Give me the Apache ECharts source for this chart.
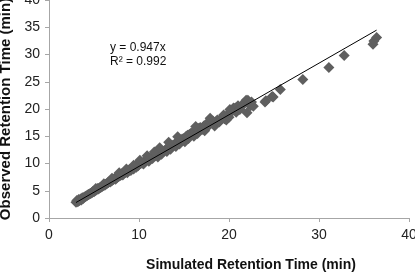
<!DOCTYPE html>
<html><head><meta charset="utf-8">
<script src="https://cdn.jsdelivr.net/npm/echarts@6/dist/echarts.min.js"></script>
<style>html,body{margin:0;padding:0;background:#fff}#c{width:415px;height:272px}</style>
</head><body><div id="c"></div>
<script>
var xTitle = 'Simulated Retention Time (min)';
var yTitle = 'Observed Retention Time (min)';
var equationText = ['y = 0.947x', 'R\u00b2 = 0.992'];
var slope = 0.947;
var trendRange = [3.0, 36.4];
var simulated = [3.0,3.1,3.2,3.3,3.4,3.5,3.6,3.7,3.8,3.9,4.0,4.1,4.2,4.3,4.4,4.5,4.6,4.7,4.8,4.9,5.0,5.1,5.2,5.3,5.4,5.5,5.6,5.7,5.8,5.9,6.0,6.1,6.2,6.3,6.4,6.5,6.6,6.7,6.8,6.9,7.0,7.1,7.2,7.3,7.4,7.5,7.6,7.7,7.8,7.9,8.0,8.1,8.2,8.3,8.4,8.5,8.6,8.7,8.8,8.9,9.0,9.1,9.2,9.3,9.4,9.5,9.6,9.7,9.8,9.9,10.0,10.2,10.4,10.5,10.6,10.8,11.0,11.1,11.2,11.4,11.5,11.6,11.8,12.0,12.1,12.2,12.4,12.5,12.6,12.8,13.0,13.1,13.2,13.4,13.5,13.6,13.8,14.0,14.1,14.2,14.4,14.5,14.6,14.8,15.0,15.1,15.2,15.4,15.5,15.6,15.8,16.0,16.1,16.2,16.4,16.5,16.6,16.8,17.0,17.2,17.3,17.4,17.6,17.8,18.0,18.2,18.4,18.5,18.7,19.0,19.2,19.5,19.7,19.8,20.0,20.3,20.5,20.7,20.8,21.0,21.3,21.6,21.9,22.0,22.1,22.2,22.4,22.5,22.7,24.0,24.1,24.8,24.9,25.7,28.2,31.1,32.8,36.0,36.1,36.4,
  5.2,6.1,7.0,7.8,8.6,9.4,10.1,10.9,11.7,12.3,13.3,14.3,15.3,16.3,17.1,17.9,18.9,19.4,20.1,21.2];
var observed  = [2.9,3.2,3.0,3.4,3.2,3.5,3.3,3.7,3.6,3.8,3.9,4.0,4.1,4.2,4.3,4.4,4.5,4.6,4.7,4.9,4.8,5.0,5.1,5.2,5.4,5.3,5.5,5.6,5.7,5.8,5.9,6.1,6.0,6.2,6.3,6.4,6.5,6.7,6.6,6.8,6.9,7.0,7.1,7.3,7.1,7.4,7.5,7.6,7.7,7.8,7.9,8.1,7.9,8.2,8.3,8.4,8.5,8.3,8.7,8.8,8.9,8.7,9.1,9.2,9.0,9.4,9.5,9.3,9.7,9.6,9.8,10.0,10.1,9.9,10.4,10.5,10.7,10.4,10.9,11.1,10.9,11.3,11.4,11.6,11.2,11.9,12.0,11.7,12.2,12.3,12.6,12.2,12.9,13.0,12.6,13.3,13.4,13.6,13.1,13.9,14.1,13.6,14.3,14.5,14.6,14.0,14.9,15.2,14.6,15.3,15.6,15.4,15.0,15.9,16.2,15.5,16.4,16.6,16.3,16.9,16.0,17.1,17.4,17.0,17.5,17.8,16.9,17.6,18.0,17.8,18.4,18.2,18.0,18.9,18.5,19.5,20.2,20.2,19.4,20.6,20.3,21.0,21.6,19.3,21.6,20.9,20.6,21.3,20.5,21.3,21.5,22.3,22.2,23.6,25.4,27.6,29.8,31.9,32.5,33.1,
  5.4,6.3,7.3,8.3,9.0,9.7,10.6,11.4,12.1,12.9,13.9,14.9,15.0,16.8,16.3,18.3,17.6,18.9,19.9,19.9];

var pts = simulated.map(function(x,i){return [x, observed[i]];});
var chart = echarts.init(document.getElementById('c'));
var axisLabelStyle = {fontFamily:'Liberation Sans, Arial, sans-serif', fontSize:14, color:'#222'};
chart.setOption({
  animation:false,
  grid:{left:49, right:6, top:0, bottom:54, containLabel:false, outerBoundsMode:'none'},
  xAxis:{type:'value', min:0, max:40, interval:10,
    axisLine:{lineStyle:{color:'#a6a6a6', width:1}},
    axisTick:{show:true, length:4, lineStyle:{color:'#a6a6a6'}},
    splitLine:{show:false},
    axisLabel:Object.assign({margin:10}, axisLabelStyle),
    name:xTitle, nameLocation:'middle', nameGap:40,
    nameTextStyle:{fontFamily:'Liberation Sans, Arial, sans-serif', fontSize:14, fontWeight:'bold', color:'#111', padding:[0,0,0,44]}
  },
  yAxis:{type:'value', min:0, max:40, interval:5,
    axisLine:{show:true, lineStyle:{color:'#a6a6a6', width:1}},
    axisTick:{show:true, length:4, lineStyle:{color:'#a6a6a6'}},
    splitLine:{show:false},
    axisLabel:Object.assign({margin:9}, axisLabelStyle),
    name:yTitle, nameLocation:'middle', nameGap:34,
    nameTextStyle:{fontFamily:'Liberation Sans, Arial, sans-serif', fontSize:15, fontWeight:'bold', color:'#111'}
  },
  series:[
    {type:'scatter', data:pts, symbol:'diamond', symbolSize:11, itemStyle:{color:'#5f5f5f', opacity:1}, z:2},
    {type:'line', data:[[trendRange[0], slope*trendRange[0]],[trendRange[1], slope*trendRange[1]]], symbol:'none',
      lineStyle:{color:'#000', width:1}, z:3, silent:true}
  ],
  graphic:[{type:'text', left:110, top:41, style:{text:equationText.join('\n'), font:'12px Liberation Sans, Arial, sans-serif', fill:'#111', lineHeight:14}}]
});
</script></body></html>
